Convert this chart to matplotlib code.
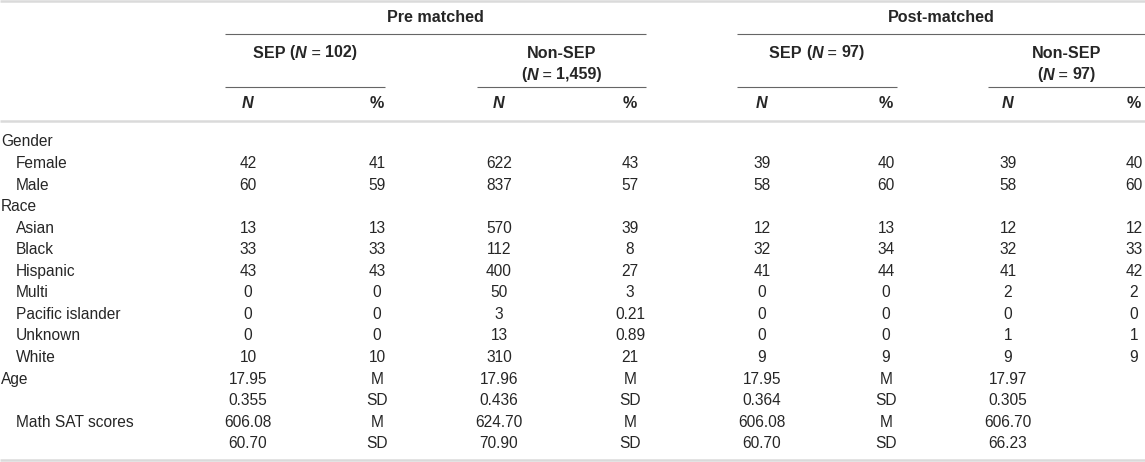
import matplotlib
matplotlib.use("Agg")
import matplotlib.pyplot as plt
from matplotlib.offsetbox import TextArea, HPacker, AnnotationBbox

plt.rcParams['font.family'] = ['Liberation Sans', 'DejaVu Sans']

# data
group_labels = ["Pre matched", "Post-matched"]
subgroup_names = ["SEP", "Non-SEP", "SEP", "Non-SEP"]
subgroup_n = ["102", "1,459", "97", "97"]
subgroup_wrap = [False, True, False, True]
col_heads = ["N", "%", "N", "%", "N", "%", "N", "%"]

row_labels = ["Gender", "Female", "Male", "Race", "Asian", "Black", "Hispanic",
              "Multi", "Pacific islander", "Unknown", "White", "Age", "",
              "Math SAT scores", ""]
row_indent = [0, 1, 1, 0, 1, 1, 1, 1, 1, 1, 1, 0, 0, 1, 0]
row_values = [
    [],
    ["42", "41", "622", "43", "39", "40", "39", "40"],
    ["60", "59", "837", "57", "58", "60", "58", "60"],
    [],
    ["13", "13", "570", "39", "12", "13", "12", "12"],
    ["33", "33", "112", "8", "32", "34", "32", "33"],
    ["43", "43", "400", "27", "41", "44", "41", "42"],
    ["0", "0", "50", "3", "0", "0", "2", "2"],
    ["0", "0", "3", "0.21", "0", "0", "0", "0"],
    ["0", "0", "13", "0.89", "0", "0", "1", "1"],
    ["10", "10", "310", "21", "9", "9", "9", "9"],
    ["17.95", "M", "17.96", "M", "17.95", "M", "17.97", ""],
    ["0.355", "SD", "0.436", "SD", "0.364", "SD", "0.305", ""],
    ["606.08", "M", "624.70", "M", "606.08", "M", "606.70", ""],
    ["60.70", "SD", "70.90", "SD", "60.70", "SD", "66.23", ""],
]

# layout (pixels)
W, H = 1145, 462
col_x = [248, 377, 499, 630, 762, 886, 1008, 1134]
sub_spans = [(225, 385), (477, 646), (737, 897), (988, 1145)]
group_spans = [(225, 646), (737, 1145)]
y_group, y_group_line = 18, 34
y_sub, y_sub2, y_sub_line = 53, 75, 87
y_head, y_thick = 103, 121
y_first, row_step = 142, 21.55
y_bottom = 460

FS = 11.2
FS_HEAD = 11.6
TXT = '#262626'
LIGHT = '#dadada'
DARK = '#666666'

fig = plt.figure(figsize=(W / 100, H / 100), dpi=100)
ax = fig.add_axes([0, 0, 1, 1])
ax.set_xlim(0, W)
ax.set_ylim(H, 0)
ax.axis('off')


def rich(x, y, parts):
    areas = []
    for s, style in parts:
        props = dict(fontsize=FS_HEAD, color=TXT,
                     fontweight='bold' if 'b' in style else 'normal',
                     fontstyle='italic' if 'i' in style else 'normal')
        areas.append(TextArea(s, textprops=props))
    box = HPacker(children=areas, align="baseline", pad=0, sep=0)
    ab = AnnotationBbox(box, (x, y), xycoords='data', box_alignment=(0.5, 0.5),
                        frameon=False, pad=0)
    ax.add_artist(ab)


# horizontal rules
ax.plot([0, W], [1, 1], color=LIGHT, lw=1.8, solid_capstyle='butt')
ax.plot([0, W], [y_thick, y_thick], color=LIGHT, lw=1.8, solid_capstyle='butt')
ax.plot([0, W], [y_bottom, y_bottom], color=LIGHT, lw=1.8, solid_capstyle='butt')
for x0, x1 in group_spans:
    ax.plot([x0, x1], [y_group_line, y_group_line], color=DARK, lw=0.8, solid_capstyle='butt')
for x0, x1 in sub_spans:
    ax.plot([x0, x1], [y_sub_line, y_sub_line], color=DARK, lw=0.8, solid_capstyle='butt')

# group headers
for (x0, x1), lab in zip(group_spans, group_labels):
    ax.text((x0 + x1) / 2, y_group, lab, fontsize=FS_HEAD, fontweight='bold',
            color=TXT, ha='center', va='center')

# subgroup headers
for (x0, x1), name, n, wrap in zip(sub_spans, subgroup_names, subgroup_n, subgroup_wrap):
    xc = (x0 + x1) / 2
    npart = [("(", "b"), ("N", "bi"), (" = ", ""), (n + ")", "b")]
    if wrap:
        rich(xc, y_sub, [(name, "b")])
        rich(xc, y_sub2, npart)
    else:
        rich(xc, y_sub, [(name + " ", "b")] + npart)

# N / % row
for x, h in zip(col_x, col_heads):
    ax.text(x, y_head, h, fontsize=FS_HEAD, fontweight='bold',
            fontstyle='italic' if h == "N" else 'normal',
            color=TXT, ha='center', va='center')

# body
for i, (lab, ind, vals) in enumerate(zip(row_labels, row_indent, row_values)):
    y = y_first + i * row_step
    ax.text(1 + 15 * ind, y, lab, fontsize=FS, color=TXT, ha='left', va='center')
    for x, v in zip(col_x, vals):
        ax.text(x, y, v, fontsize=FS, color=TXT, ha='center', va='center')

fig.savefig("out.png", dpi=100)
